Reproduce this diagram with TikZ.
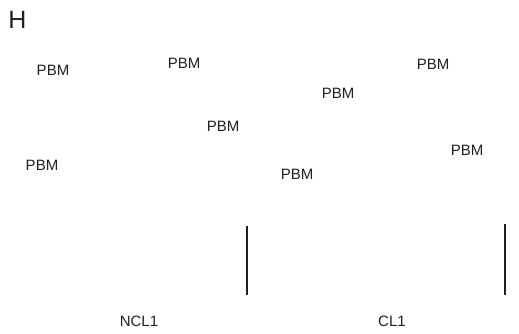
\documentclass[tikz,border=0pt]{standalone}
\usepackage{fontspec}
\setmainfont{Liberation Sans}
\definecolor{ink}{HTML}{231F20}

\begin{document}
\begin{tikzpicture}[x=1pt, y=-1pt, every node/.style={inner sep=0pt, text=ink},
  lbl/.style={font=\fontsize{15}{18}\selectfont},
  bar/.style={draw=ink, line width=2pt}]
  \useasboundingbox (0, 0) rectangle (519, 333);

  \node (H) at (17.5, 19.5) {\fontsize{25}{30}\selectfont H};

  \node[lbl] (pbm1) at (53, 70) {PBM};
  \node[lbl] (pbm2) at (184, 63) {PBM};
  \node[lbl] (pbm3) at (223, 126) {PBM};
  \node[lbl] (pbm4) at (42, 165) {PBM};

  \node[lbl] (pbm5) at (433, 64) {PBM};
  \node[lbl] (pbm6) at (338, 93) {PBM};
  \node[lbl] (pbm7) at (467, 150) {PBM};
  \node[lbl] (pbm8) at (297, 174) {PBM};

  \coordinate (ncltop) at (247, 226);
  \coordinate (nclbot) at (247, 295);
  \coordinate (cltop) at (505, 224);
  \coordinate (clbot) at (505, 295);

  \draw[bar] (ncltop) -- (nclbot);
  \draw[bar] (cltop) -- (clbot);

  \node[lbl] (ncl) at (139, 321) {NCL1};
  \node[lbl] (cl) at (392, 321) {CL1};
\end{tikzpicture}
\end{document}
